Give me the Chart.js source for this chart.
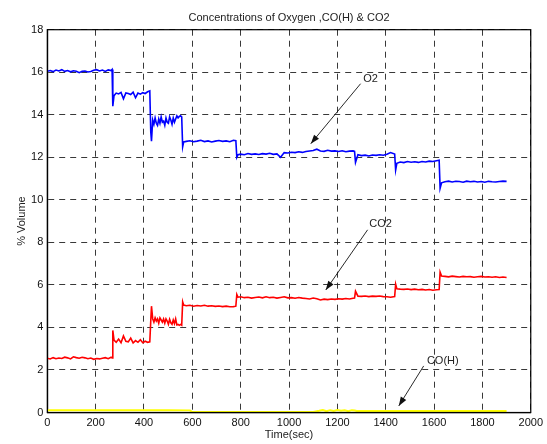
<!DOCTYPE html>
<html>
<head>
<meta charset="utf-8">
<script src="https://cdn.jsdelivr.net/npm/chart.js@4"></script>
<style>
  body { margin: 0; background: #fff; }
  canvas { display: block; }
</style>
</head>
<body>
<canvas id="gasChart" width="547" height="444"></canvas>
<script>
// sample times (sec) shared by O2 and CO2
const timeSec = [
  0,12,24,36,48,60,72,84,96,108,120,132,144,156,168,180,192,204,216,228,240,252,264,268,
  271,276,
  285,295,305,315,325,335,345,355,365,375,385,395,405,415,424,
  428,431,
  436,441,446,451,456,461,466,471,476,481,486,491,496,501,506,511,516,521,526,531,536,541,546,551,556,
  560,564,
  575,590,605,620,635,650,665,680,695,710,725,740,755,770,780,
  784,789,
  800,815,830,845,860,875,890,905,920,935,950,965,980,995,1010,1025,1040,1055,1070,1085,1100,1115,1130,1145,1160,1175,1190,1205,1220,1235,1250,1265,1271,
  1275,
  1285,1300,1315,1330,1345,1360,1375,1390,1405,1420,1437,
  1441,1446,
  1460,1475,1490,1505,1520,1535,1550,1565,1580,1595,1610,1621,
  1625,1631,
  1645,1660,1675,1690,1705,1720,1735,1750,1765,1780,1795,1810,1825,1840,1855,1870,1885,1900
];

const o2Values = [
  16.05,16.08,16.03,16.10,16.06,16.12,16.04,16.08,16.02,16.07,16.05,15.98,16.04,16.06,16.01,16.03,16.09,16.12,16.06,16.10,16.04,16.11,16.08,16.13,
  14.4,14.9,
  15.02,14.98,15.05,14.75,15.03,15.0,14.95,15.06,14.8,15.02,14.97,15.04,15.0,15.08,15.12,
  13.2,12.76,
  13.75,13.55,13.85,13.6,13.5,13.8,13.6,13.9,13.65,13.7,13.5,13.85,13.65,13.6,13.9,13.75,13.55,13.85,13.65,13.8,13.95,13.85,13.92,13.95,13.9,
  12.5,12.72,
  12.75,12.78,12.73,12.76,12.8,12.74,12.77,12.72,12.76,12.79,12.75,12.77,12.73,12.8,12.78,
  12.0,12.12,
  12.15,12.12,12.18,12.14,12.16,12.13,12.17,12.15,12.19,12.14,12.16,12.0,12.22,12.2,12.24,12.22,12.26,12.23,12.27,12.3,12.32,12.38,12.3,12.28,12.33,12.29,12.3,12.27,12.31,12.26,12.29,12.3,12.28,
  11.76,
  12.12,12.08,12.1,12.06,12.11,12.09,12.12,12.1,12.14,12.22,12.15,
  11.4,11.72,
  11.78,11.75,11.8,11.77,11.79,11.76,11.8,11.78,11.82,11.8,11.84,11.86,
  10.54,10.8,
  10.85,10.88,10.84,10.87,10.86,10.83,10.88,10.85,10.87,10.84,10.86,10.83,10.87,10.85,10.84,10.86,10.88,10.87
];

const co2Values = [
  2.55,2.52,2.58,2.53,2.56,2.54,2.6,2.57,2.52,2.62,2.58,2.55,2.6,2.57,2.53,2.56,2.5,2.54,2.52,2.55,2.58,2.53,2.6,2.56,
  3.86,3.4,
  3.3,3.45,3.28,3.6,3.35,3.32,3.5,3.27,3.38,3.3,3.42,3.28,3.35,3.3,3.32,
  4.3,5.0,
  4.4,4.25,4.45,4.3,4.4,4.2,4.45,4.35,4.25,4.4,4.2,4.4,4.3,4.15,4.38,4.22,4.15,4.35,4.18,4.4,4.12,4.14,4.1,4.14,4.1,
  5.2,5.05,
  5.02,5.04,5.0,5.03,5.01,5.04,5.0,5.02,4.99,5.01,4.98,5.0,4.97,4.98,5.0,
  5.55,5.42,
  5.44,5.4,5.42,5.38,5.41,5.43,5.39,5.44,5.4,5.42,5.38,5.41,5.44,5.39,5.4,5.37,5.41,5.38,5.36,5.34,5.38,5.35,5.29,5.33,5.31,5.34,5.32,5.35,5.33,5.36,5.34,5.37,5.38,
  5.7,
  5.47,5.46,5.48,5.45,5.47,5.46,5.48,5.45,5.44,5.42,5.45,
  6.03,5.82,
  5.8,5.79,5.81,5.78,5.8,5.77,5.79,5.76,5.78,5.75,5.77,5.78,
  6.6,6.42,
  6.4,6.38,6.41,6.39,6.37,6.4,6.38,6.39,6.36,6.38,6.4,6.37,6.38,6.36,6.38,6.35,6.37,6.35
];

// CO(H) is sampled separately
const cohTime = [0,100,200,300,400,500,590,600,700,800,900,1000,1100,1125,1140,1155,1170,1185,1200,1215,1230,1245,1260,1272,1280,1400,1500,1600,1700,1800,1900];
const cohValues = [0.1,0.1,0.11,0.1,0.1,0.11,0.1,0.02,0.02,0.02,0.02,0.02,0.02,0.08,0.12,0.06,0.11,0.07,0.12,0.08,0.1,0.06,0.11,0.09,0.07,0.07,0.07,0.07,0.07,0.07,0.07];

const xTicks = [0,200,400,600,800,1000,1200,1400,1600,1800,2000];
const yTicks = [0,2,4,6,8,10,12,14,16,18];

// callouts: label, text pos, arrow start, arrow tip (data units)
const callouts = [
  { label: 'O2',    tx: 1337, ty: 15.69, x1: 1296, y1: 15.46, x2: 1090, y2: 12.64 },
  { label: 'CO2',   tx: 1379, ty: 8.87,  x1: 1325, y1: 8.59,  x2: 1152, y2: 5.76 },
  { label: 'CO(H)', tx: 1636, ty: 2.42,  x1: 1557, y1: 2.19,  x2: 1454, y2: 0.31 }
];

const toPoints = (xs, ys) => xs.map((x, i) => ({ x: x, y: ys[i] }));

const FONT = 'Liberation Sans, Arial, sans-serif';

const frameAndCallouts = {
  id: 'frameAndCallouts',
  afterDatasetsDraw(chart) {
    const ctx = chart.ctx;
    const xs = chart.scales.x, ys = chart.scales.y;
    const a = chart.chartArea;
    ctx.save();
    ctx.strokeStyle = '#000';
    ctx.lineWidth = 1.2;
    ctx.strokeRect(a.left, a.top, a.right - a.left, a.bottom - a.top);

    ctx.font = '11px ' + FONT;
    ctx.strokeStyle = '#111';
    ctx.lineWidth = 0.9;
    ctx.textAlign = 'center';
    ctx.textBaseline = 'middle';
    callouts.forEach(c => {
      const px1 = xs.getPixelForValue(c.x1), py1 = ys.getPixelForValue(c.y1);
      const px2 = xs.getPixelForValue(c.x2), py2 = ys.getPixelForValue(c.y2);
      ctx.beginPath();
      ctx.moveTo(px1, py1);
      ctx.lineTo(px2, py2);
      ctx.stroke();
      const ang = Math.atan2(py2 - py1, px2 - px1);
      const len = 9, half = 3.2;
      ctx.beginPath();
      ctx.moveTo(px2, py2);
      ctx.lineTo(px2 - len * Math.cos(ang) + half * Math.sin(ang), py2 - len * Math.sin(ang) - half * Math.cos(ang));
      ctx.lineTo(px2 - len * Math.cos(ang) - half * Math.sin(ang), py2 - len * Math.sin(ang) + half * Math.cos(ang));
      ctx.closePath();
      ctx.fillStyle = '#111';
      ctx.fill();
      ctx.fillStyle = '#222';
      ctx.fillText(c.label, xs.getPixelForValue(c.tx), ys.getPixelForValue(c.ty));
    });
    ctx.restore();
  }
};

const gridStyle = {
  color: '#222',
  lineWidth: 0.9,
  drawTicks: false
};

new Chart(document.getElementById('gasChart').getContext('2d'), {
  type: 'line',
  data: {
    datasets: [
      { label: 'O2', data: toPoints(timeSec, o2Values), borderColor: '#0000ff', borderWidth: 1.6, pointRadius: 0, tension: 0 },
      { label: 'CO2', data: toPoints(timeSec, co2Values), borderColor: '#ff0000', borderWidth: 1.6, pointRadius: 0, tension: 0 },
      { label: 'CO(H)', data: toPoints(cohTime, cohValues), borderColor: '#ffff00', borderWidth: 2, pointRadius: 0, tension: 0 }
    ]
  },
  options: {
    responsive: false,
    animation: false,
    layout: { padding: { left: 0, right: 16, top: 0, bottom: 0 } },
    plugins: {
      legend: { display: false },
      tooltip: { enabled: false },
      title: {
        display: true,
        fullSize: false,
        text: 'Concentrations of Oxygen ,CO(H) & CO2',
        color: '#222',
        font: { family: FONT, size: 11, weight: 'normal' },
        padding: { top: 11, bottom: 5.5 }
      }
    },
    scales: {
      x: {
        type: 'linear',
        min: 0,
        max: 2000,
        afterBuildTicks: s => { s.ticks = xTicks.map(v => ({ value: v })); },
        ticks: { color: '#111', font: { family: FONT, size: 11 }, padding: 4, maxRotation: 0, callback: v => String(v) },
        grid: gridStyle,
        border: { display: true, color: '#000', width: 1.2, dash: [6, 5] },
        title: { display: true, text: 'Time(sec)', color: '#222', font: { family: FONT, size: 11 }, padding: { top: 0, bottom: 2 } },
        afterFit: s => { s.height = 31.5; }
      },
      y: {
        min: 0,
        max: 18,
        afterBuildTicks: s => { s.ticks = yTicks.map(v => ({ value: v })); },
        ticks: { color: '#111', font: { family: FONT, size: 11 }, padding: 4, callback: v => String(v) },
        grid: gridStyle,
        border: { display: true, color: '#000', width: 1.2, dash: [6, 5] },
        title: { display: true, text: '% Volume', color: '#222', font: { family: FONT, size: 11 }, padding: { top: 15, bottom: 0 } },
        afterFit: s => { s.width = 47.3; }
      }
    }
  },
  plugins: [frameAndCallouts]
});
</script>
</body>
</html>
